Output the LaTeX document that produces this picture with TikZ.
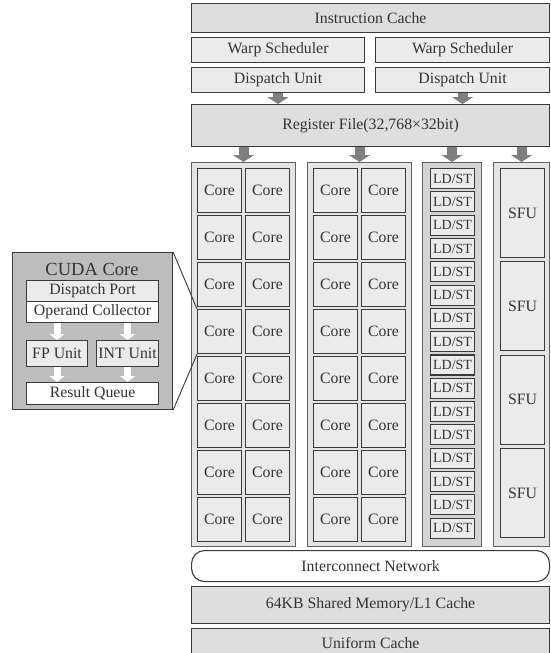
\documentclass[tikz,border=0pt]{standalone}
\usepackage{fontspec}
\setmainfont{Liberation Serif}
\usetikzlibrary{arrows.meta}

\definecolor{bargray}{HTML}{DEDEDE}
\definecolor{boxgray}{HTML}{EBEBEB}
\definecolor{colgray}{HTML}{E4E4E4}
\definecolor{ldgray}{HTML}{D4D4D4}
\definecolor{cudagray}{HTML}{BDBDBD}
\definecolor{edge}{HTML}{3A3A3A}
\definecolor{txt}{HTML}{333333}
\definecolor{arrgray}{HTML}{7F7F7F}

\begin{document}
\begin{tikzpicture}[x=1pt, y=-1pt,
    every node/.style={draw=edge, line width=1.1pt, anchor=north west, inner sep=0pt,
      text=txt, font=\fontsize{15.8}{18}\selectfont},
    bar/.style={fill=bargray},
    unit/.style={fill=boxgray},
    colbox/.style={fill=colgray, draw=edge!80, minimum height=384},
    core/.style={fill=boxgray, minimum width=44, minimum height=44},
    ldst/.style={fill=boxgray, minimum width=44, minimum height=20, font=\fontsize{14}{16}\selectfont},
    sfu/.style={fill=boxgray, minimum width=44, minimum height=89},
    blockarrow/.style={draw=arrgray, fill=arrgray, line width=10pt, -{Triangle[width=21pt,length=7pt]}},
    whitearrow/.style={draw=white, fill=white, line width=7pt, -{Triangle[width=15pt,length=6pt]}}]
    \path[use as bounding box] (0,0) rectangle (550,653);

    % front end
    \node[bar, minimum width=358, minimum height=29] (icache) at (191,3) {Instruction Cache};
    \node[unit, minimum width=173, minimum height=25] (warp-l) at (191,37) {Warp Scheduler};
    \node[unit, minimum width=174, minimum height=25] (warp-r) at (375,37) {Warp Scheduler};
    \node[unit, minimum width=173, minimum height=25] (disp-l) at (191,67) {Dispatch Unit};
    \node[unit, minimum width=174, minimum height=25] (disp-r) at (375,67) {Dispatch Unit};
    \node[bar, minimum width=358, minimum height=42] (regfile) at (191,104) {Register File(32,768\texttimes32bit)};

    \draw[blockarrow] (disp-l.south) -- (disp-l.south |- regfile.north);
    \draw[blockarrow] (disp-r.south) -- (disp-r.south |- regfile.north);

    % execution columns
    \node[colbox, minimum width=104] (col1) at (191,162) {};
    \node[colbox, minimum width=104] (col2) at (307,162) {};
    \node[colbox, fill=ldgray, minimum width=59] (col3) at (422,162) {};
    \node[colbox, minimum width=56] (col4) at (493,162) {};

    \foreach \col in {col1,col2,col3,col4}
      \draw[blockarrow] (regfile.south -| \col.north) -- (\col.north);

    \foreach \c/\x in {1/191, 2/307}
      \foreach \r in {1,...,8} {
        \node[core] (core-\c-\r-a) at (\x+6, {168+47*(\r-1)}) {Core};
        \node[core] (core-\c-\r-b) at (\x+54, {168+47*(\r-1)}) {Core};
      }

    \foreach \i in {1,...,16}
      \node[ldst] (ldst-\i) at (430, {168+23.3*(\i-1)}) {LD/ST};

    \foreach \i in {1,...,4}
      \node[sfu] (sfu-\i) at (500, {168+93.3*(\i-1)}) {SFU};

    % memory
    \node[fill=white, rounded corners=13pt, minimum width=358, minimum height=31] (network) at (191,550) {Interconnect Network};
    \node[bar, minimum width=358, minimum height=37] (shmem) at (191,586) {64KB Shared Memory/L1 Cache};
    \node[bar, minimum width=358, minimum height=28] (ucache) at (191,628) {Uniform Cache};

    % CUDA core detail
    \node[fill=cudagray, minimum width=160, minimum height=157] (cuda) at (12,252) {};
    \node[draw=none, anchor=center, text=black!80, font=\fontsize{18.5}{20}\selectfont] (cuda-title) at (92,269) {CUDA Core};
    \node[fill=boxgray, minimum width=132, minimum height=21] (dport) at (26,280) {Dispatch Port};
    \node[fill=white, minimum width=132, minimum height=21] (opcoll) at (26,301) {Operand Collector};
    \node[fill=boxgray, minimum width=61, minimum height=26] (fpu) at (26,340) {FP Unit};
    \node[fill=boxgray, minimum width=62, minimum height=26] (intu) at (96,340) {INT Unit};
    \node[fill=white, minimum width=132, minimum height=22] (rqueue) at (26,382) {Result Queue};

    \draw[whitearrow] (opcoll.south -| fpu.north) -- (fpu.north);
    \draw[whitearrow] (opcoll.south -| intu.north) -- (intu.north);
    \draw[whitearrow] (fpu.south) -- (fpu.south |- rqueue.north);
    \draw[whitearrow] (intu.south) -- (intu.south |- rqueue.north);

    \draw[edge, line width=0.9pt] (cuda.north east) -- (core-1-4-a.north west);
    \draw[edge, line width=0.9pt] (cuda.south east) -- (core-1-4-a.south west);
\end{tikzpicture}
\end{document}
